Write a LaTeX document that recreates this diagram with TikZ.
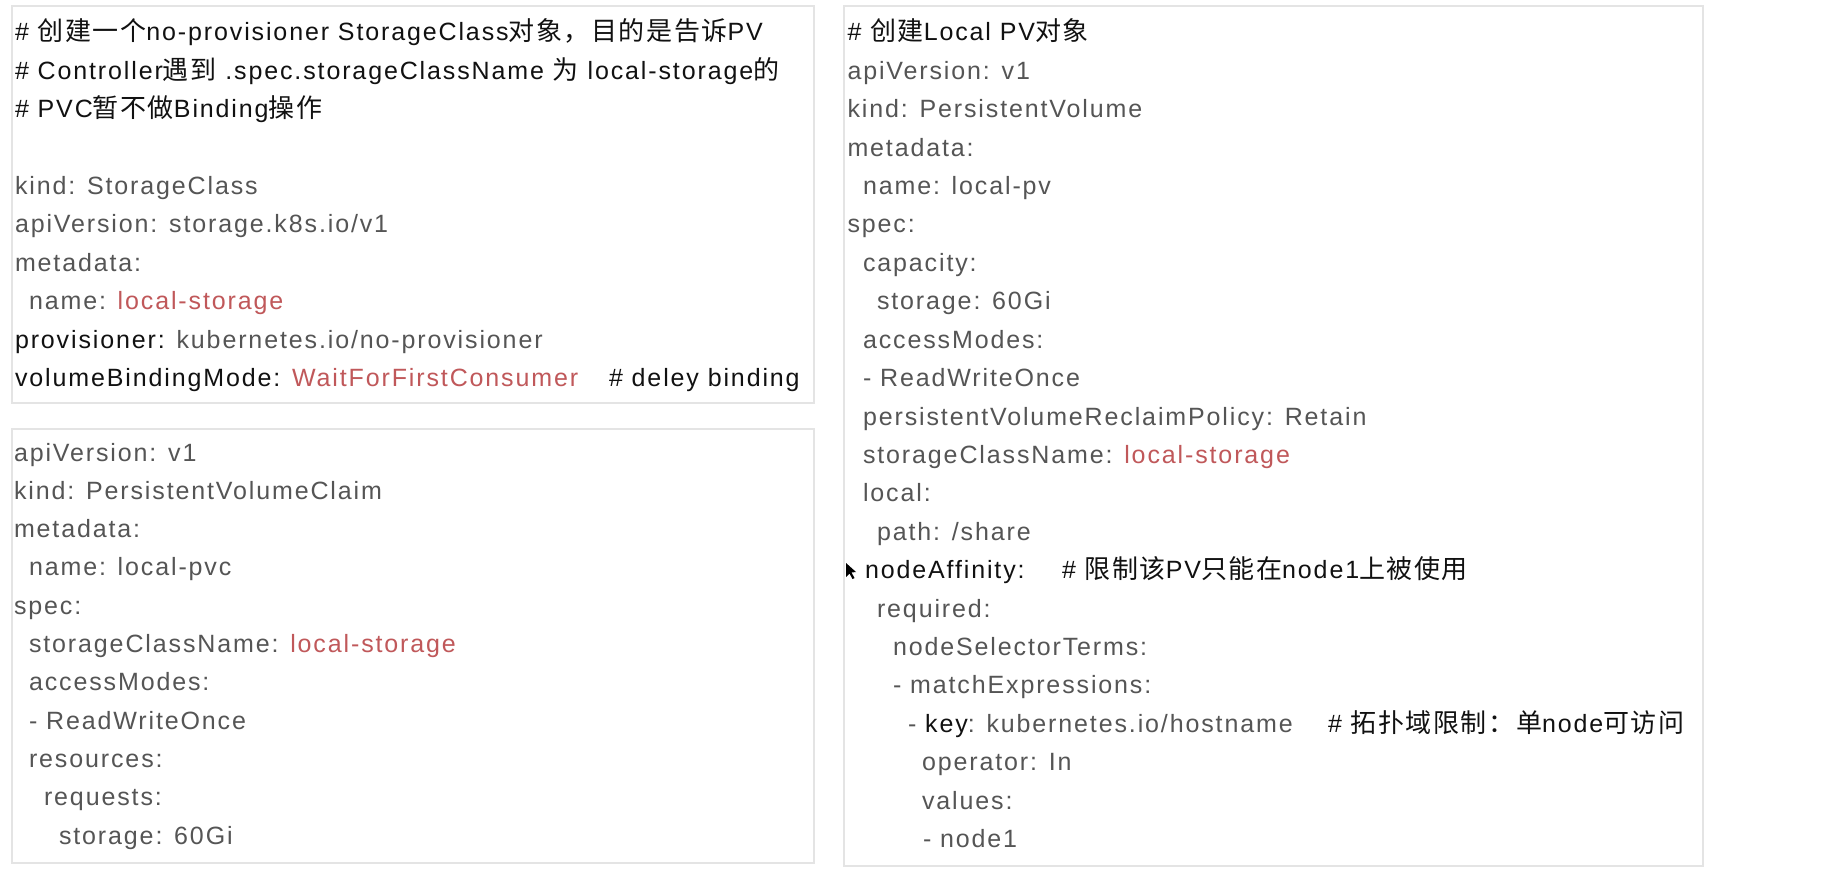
\documentclass[tikz,border=0pt]{standalone}
\usepackage{fontspec}
\setmainfont{Liberation Sans}[LetterSpace=7.5]
\newfontfamily\cjkfont{Noto Sans CJK SC}[Scale=1.04,LetterSpace=6]
\newcommand\zh[1]{{\cjkfont #1}}
\definecolor{codegray}{HTML}{555555}
\definecolor{codedark}{HTML}{111111}
\definecolor{codered}{HTML}{C0585A}
\definecolor{panelline}{HTML}{E4E4E4}
\begin{document}
\begin{tikzpicture}[x=1pt,y=-1pt,
  txt/.style={anchor=base west, inner sep=0pt, outer sep=0pt, text=codegray, font=\fontsize{25}{30}\selectfont},
  dk/.style={txt, text=codedark},
  panel/.style={draw=panelline, line width=1.2pt, fill=white}]
\useasboundingbox[fill=white] (0,0) rectangle (1826,874);

% panels
\draw[panel] (12,6) rectangle (814,403);
\draw[panel] (12,429) rectangle (814,863);
\draw[panel] (844,6) rectangle (1703,866);

% StorageClass panel
\node[dk] (a1) at (15,41) {\# \zh{创建一个}no-provisioner StorageClass\zh{对象，目的是告诉}PV};
\node[dk] (a2) at (15,79.4) {\# Controller\zh{遇到} .spec.storageClassName \zh{为} local-storage\zh{的}};
\node[dk] (a3) at (15,117.8) {\# PVC\zh{暂不做}Binding\zh{操作}};
\node[txt] (a4) at (15,194.6) {kind: StorageClass};
\node[txt] (a5) at (15,233) {apiVersion: storage.k8s.io/v1};
\node[txt] (a6) at (15,271.4) {metadata:};
\node[txt] (a7) at (29,309.8) {name: \textcolor{codered}{local-storage}};
\node[txt] (a8) at (15,348.2) {\textcolor{codedark}{provisioner:} kubernetes.io/no-provisioner};
\node[txt] (a9) at (15,386.6) {\textcolor{codedark}{volumeBindingMode:} \textcolor{codered}{WaitForFirstConsumer}};
\node[dk] (a9c) at (609,386.6) {\# deley binding};

% PVC panel
\node[txt] (b1) at (14,461) {apiVersion: v1};
\node[txt] (b2) at (14,499.3) {kind: PersistentVolumeClaim};
\node[txt] (b3) at (14,537.6) {metadata:};
\node[txt] (b4) at (29,575.9) {name: local-pvc};
\node[txt] (b5) at (14,614.2) {spec:};
\node[txt] (b6) at (29,652.5) {storageClassName: \textcolor{codered}{local-storage}};
\node[txt] (b7) at (29,690.8) {accessModes:};
\node[txt] (b8) at (29,729.1) {- ReadWriteOnce};
\node[txt] (b9) at (29,767.4) {resources:};
\node[txt] (b10) at (44,805.7) {requests:};
\node[txt] (b11) at (59,844) {storage: 60Gi};

% PV panel
\node[dk] (c1) at (847.5,41) {\# \zh{创建}Local PV\zh{对象}};
\node[txt] (c2) at (847.5,79.4) {apiVersion: v1};
\node[txt] (c3) at (847.5,117.8) {kind: PersistentVolume};
\node[txt] (c4) at (847.5,156.2) {metadata:};
\node[txt] (c5) at (863,194.6) {name: local-pv};
\node[txt] (c6) at (847.5,233) {spec:};
\node[txt] (c7) at (863,271.4) {capacity:};
\node[txt] (c8) at (877,309.8) {storage: 60Gi};
\node[txt] (c9) at (863,348.2) {accessModes:};
\node[txt] (c10) at (863,386.6) {- ReadWriteOnce};
\node[txt] (c11) at (863,425) {persistentVolumeReclaimPolicy: Retain};
\node[txt] (c12) at (863,463.4) {storageClassName: \textcolor{codered}{local-storage}};
\node[txt] (c13) at (863,501.8) {local:};
\node[txt] (c14) at (877,540.2) {path: /share};
\node[dk] (c15) at (865,578.6) {nodeAffinity:};
\node[dk] (c15c) at (1062,578.6) {\# \zh{限制该}PV\zh{只能在}node1\zh{上被使用}};
\node[txt] (c16) at (877,617) {required:};
\node[txt] (c17) at (893,655.4) {nodeSelectorTerms:};
\node[txt] (c18) at (893,693.8) {- matchExpressions:};
\node[txt] (c19) at (908,732.2) {- \textcolor{codedark}{key}: kubernetes.io/hostname};
\node[dk] (c19c) at (1328,732.2) {\# \zh{拓扑域限制：单}node\zh{可访问}};
\node[txt] (c20) at (922,770.6) {operator: In};
\node[txt] (c21) at (922,809) {values:};
\node[txt] (c22) at (923,847.4) {- node1};

% mouse pointer
\fill[black] (846,563) -- (846,577) -- (849.5,573.5) -- (852.5,579) -- (854.5,578) -- (851.5,572.5) -- (856,572) -- cycle;
\end{tikzpicture}
\end{document}
